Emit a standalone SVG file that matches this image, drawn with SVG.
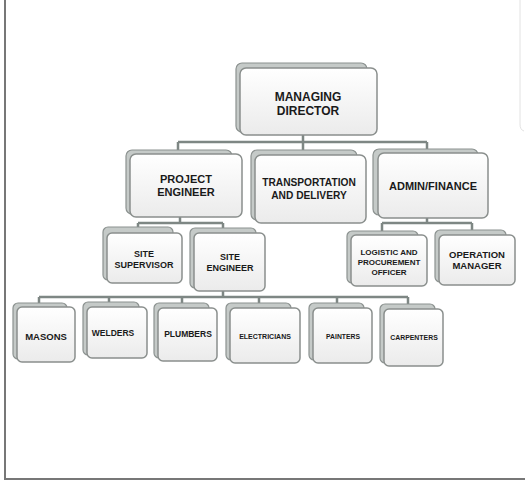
<svg xmlns="http://www.w3.org/2000/svg" width="525" height="504" viewBox="0 0 525 504">
<defs>
<linearGradient id="g" x1="0" y1="0" x2="0" y2="1">
<stop offset="0" stop-color="#ffffff"/>
<stop offset="1" stop-color="#ebebeb"/>
</linearGradient>
</defs>
<style>
.back{fill:#c5cac8;stroke:#8c9290;stroke-width:1.2}
.front{fill:url(#g);stroke:#8a8f8d;stroke-width:1.5}
.c{stroke:#7e8784;stroke-width:2.5;fill:none}
text{font-family:"Liberation Sans",Arial,sans-serif;font-weight:bold;fill:#1a1a1a;text-anchor:middle}
</style>
<rect width="525" height="504" fill="#ffffff"/>
<path d="M5 0 V479 H525" fill="none" stroke="#777" stroke-width="2"/>
<path d="M520 0 V124 Q520 130 524 131" fill="none" stroke="#e2e2e2" stroke-width="1"/>
<g id="connectors">
<path class="c" d="M303 135 V142 M178 142 H427 M178 142 V150 M303 142 V150 M427 142 V149"/>
<path class="c" d="M180 217 V223 M138 223 H223 M138 223 V228 M223 223 V229"/>
<path class="c" d="M427 218 V223 M382 223 H472 M382 223 V231 M472 223 V230"/>
<path class="c" d="M223 291 V297 M39 297 H408 M39 297 V303 M109 297 V302 M182 297 V303 M259 297 V303 M337 297 V303 M408 297 V304"/>
</g>
<g id="managing-director">
<rect class="back" x="236" y="63" width="131" height="69" rx="6"/>
<rect class="front" x="240" y="68" width="137" height="67" rx="6"/>
<text x="308" y="101" font-size="12">MANAGING</text>
<text x="308" y="115" font-size="12">DIRECTOR</text>
</g>
<g id="project-engineer">
<rect class="back" x="126" y="150" width="106" height="64" rx="6"/>
<rect class="front" x="130" y="154" width="112" height="63" rx="6"/>
<text x="186" y="183" font-size="11">PROJECT</text>
<text x="186" y="196" font-size="11">ENGINEER</text>
</g>
<g id="transportation">
<rect class="back" x="251" y="150" width="106" height="70" rx="6"/>
<rect class="front" x="255" y="155" width="111" height="68" rx="6"/>
<text x="309" y="186" font-size="10.2">TRANSPORTATION</text>
<text x="309" y="199" font-size="10.2">AND DELIVERY</text>
</g>
<g id="admin-finance">
<rect class="back" x="373" y="149" width="105" height="66" rx="6"/>
<rect class="front" x="378" y="153" width="110" height="65" rx="6"/>
<text x="433" y="190" font-size="11">ADMIN/FINANCE</text>
</g>
<g id="site-supervisor">
<rect class="back" x="103" y="227" width="70" height="53" rx="5"/>
<rect class="front" x="107" y="233" width="75" height="50" rx="5"/>
<text x="144" y="257" font-size="9">SITE</text>
<text x="144" y="268" font-size="9">SUPERVISOR</text>
</g>
<g id="site-engineer">
<rect class="back" x="190" y="228" width="66" height="60" rx="5"/>
<rect class="front" x="194" y="233" width="71" height="58" rx="5"/>
<text x="230" y="260" font-size="9">SITE</text>
<text x="230" y="271" font-size="9">ENGINEER</text>
</g>
<g id="logistic">
<rect class="back" x="347" y="231" width="71" height="52" rx="5"/>
<rect class="front" x="351" y="235" width="76" height="51" rx="5"/>
<text x="389" y="255" font-size="8">LOGISTIC AND</text>
<text x="389" y="265" font-size="8">PROCUREMENT</text>
<text x="389" y="275" font-size="8">OFFICER</text>
</g>
<g id="operation-manager">
<rect class="back" x="435" y="230" width="71" height="52" rx="5"/>
<rect class="front" x="439" y="235" width="76" height="50" rx="5"/>
<text x="477" y="258" font-size="9.5">OPERATION</text>
<text x="477" y="269" font-size="9.5">MANAGER</text>
</g>
<g id="masons">
<rect class="back" x="13" y="303" width="54" height="56" rx="5"/>
<rect class="front" x="17" y="307" width="58" height="55" rx="5"/>
<text x="46" y="339.5" font-size="9.5">MASONS</text>
</g>
<g id="welders">
<rect class="back" x="83" y="302" width="56" height="53" rx="5"/>
<rect class="front" x="87" y="307" width="60" height="51" rx="5"/>
<text x="113" y="336" font-size="8.5">WELDERS</text>
</g>
<g id="plumbers">
<rect class="back" x="154" y="303" width="55" height="55" rx="5"/>
<rect class="front" x="158" y="308" width="59" height="53" rx="5"/>
<text x="188" y="337" font-size="8.5">PLUMBERS</text>
</g>
<g id="electricians">
<rect class="back" x="226" y="303" width="65" height="57" rx="5"/>
<rect class="front" x="230" y="308" width="70" height="55" rx="5"/>
<text x="265" y="338.5" font-size="7">ELECTRICIANS</text>
</g>
<g id="painters">
<rect class="back" x="309" y="303" width="55" height="57" rx="5"/>
<rect class="front" x="313" y="308" width="59" height="55" rx="5"/>
<text x="343" y="338.5" font-size="6.8">PAINTERS</text>
</g>
<g id="carpenters">
<rect class="back" x="380" y="304" width="55" height="59" rx="5"/>
<rect class="front" x="384" y="309" width="59" height="57" rx="5"/>
<text x="414" y="339.5" font-size="6.9">CARPENTERS</text>
</g>
</svg>
